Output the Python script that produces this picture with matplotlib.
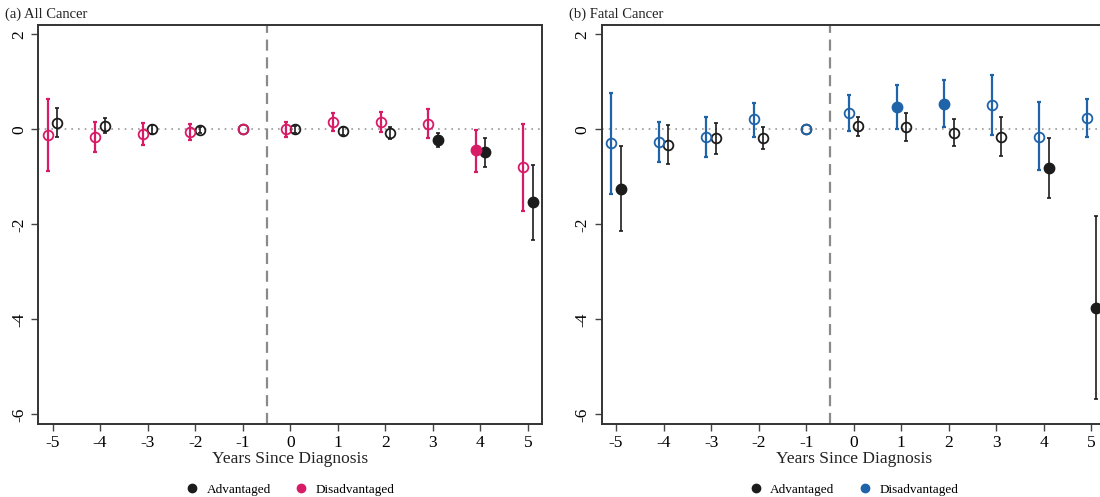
import numpy as np
import matplotlib
matplotlib.use('Agg')
from matplotlib import pyplot as plt
from matplotlib.lines import Line2D

plt.rcParams['font.family'] = ['Liberation Serif', 'DejaVu Serif']
plt.rcParams['axes.unicode_minus'] = False

nan = np.nan
years = [-5, -4, -3, -2, -1, 0, 1, 2, 3, 4, 5]
ref_year = -1

# (a) All Cancer
all_adv = [0.14, 0.08, 0.0, -0.01, 0.0, 0.0, -0.04, -0.08, -0.22, -0.48, -1.53]
all_adv_lo = [-0.16, -0.07, -0.10, -0.08, nan, -0.07, -0.12, -0.21, -0.38, -0.79, -2.33]
all_adv_hi = [0.44, 0.23, 0.09, 0.06, nan, 0.07, 0.06, 0.04, -0.07, -0.18, -0.74]
all_adv_sig = [0, 0, 0, 0, 0, 0, 0, 0, 1, 1, 1]
all_dis = [-0.12, -0.16, -0.10, -0.06, 0.0, 0.0, 0.15, 0.15, 0.12, -0.44, -0.79]
all_dis_lo = [-0.88, -0.48, -0.33, -0.22, nan, -0.15, -0.03, -0.06, -0.19, -0.89, -1.71]
all_dis_hi = [0.63, 0.15, 0.13, 0.11, nan, 0.15, 0.34, 0.36, 0.42, -0.01, 0.11]
all_dis_sig = [0, 0, 0, 0, 0, 0, 0, 0, 0, 1, 0]

# (b) Fatal Cancer
fat_adv = [-1.26, -0.32, -0.19, -0.18, 0.0, 0.08, 0.04, -0.07, -0.15, -0.81, -3.76]
fat_adv_lo = [-2.14, -0.73, -0.52, -0.42, nan, -0.13, -0.25, -0.36, -0.57, -1.44, -5.68]
fat_adv_hi = [-0.35, 0.09, 0.13, 0.05, nan, 0.27, 0.34, 0.22, 0.27, -0.19, -1.82]
fat_adv_sig = [1, 0, 0, 0, 0, 0, 0, 0, 0, 1, 1]
fat_dis = [-0.29, -0.27, -0.17, 0.21, 0.0, 0.34, 0.48, 0.53, 0.51, -0.15, 0.24]
fat_dis_lo = [-1.35, -0.69, -0.59, -0.15, nan, -0.04, 0.0, 0.04, -0.11, -0.86, -0.17]
fat_dis_hi = [0.76, 0.15, 0.25, 0.56, nan, 0.73, 0.94, 1.03, 1.14, 0.58, 0.64]
fat_dis_sig = [0, 0, 0, 0, 0, 0, 1, 1, 0, 0, 0]

BLACK = '#1c1c1c'
PINK = '#d81b66'
BLUE = '#1f63a8'


def series(ax, x, y, lo, hi, sig, color, lw):
    x = np.array(x, float)
    y = np.array(y, float)
    lo = np.array(lo, float)
    hi = np.array(hi, float)
    sig = np.array(sig, bool)
    ok = ~np.isnan(lo)
    ax.errorbar(x[ok], y[ok], yerr=[y[ok] - lo[ok], hi[ok] - y[ok]], fmt='none',
                ecolor=color, elinewidth=lw, capsize=1.5, capthick=lw, zorder=2)
    ax.plot(x[~sig], y[~sig], 'o', ms=7, mfc='none', mec=color, mew=1.3,
            linestyle='none', zorder=3)
    ax.plot(x[sig], y[sig], 'o', ms=7.5, mfc=color, mec=color,
            linestyle='none', zorder=3)


def panel(rect, title, adv, dis, dis_color):
    ax = fig.add_axes(rect)
    yr = np.array(years, float)
    off = np.where(yr == ref_year, 0, 0.1)
    ax.axhline(0, color='#999999', lw=1.2, linestyle=(0, (1, 3)), zorder=1)
    ax.axvline(-0.5, color='#8a8a8a', lw=1.6, linestyle=(0, (5, 3)), zorder=1)
    series(ax, yr + off, *adv, BLACK, 1.2)
    series(ax, yr - off, *dis, dis_color, 1.6)
    ax.set_xlim(-5.3, 5.3)
    ax.set_ylim(-6.2, 2.2)
    ax.set_xticks(years)
    ax.set_yticks([-6, -4, -2, 0, 2])
    ax.tick_params(length=5, width=1, color='#444444', labelsize=12.5, pad=3)
    for lab in ax.get_yticklabels():
        lab.set_rotation(90)
        lab.set_va('center')
    for s in ax.spines.values():
        s.set_linewidth(1.4)
        s.set_color('#333333')
    ax.set_xlabel('Years Since Diagnosis', fontsize=12.5, labelpad=0, color='#222222')
    pos = ax.get_position()
    fig.text(pos.x0 - 33 / 1100, 1 - 14 / 497, title, fontsize=10.5, va='center', color='#222222')
    handles = [Line2D([], [], marker='o', color=BLACK, linestyle='none', ms=6),
               Line2D([], [], marker='o', color=dis_color, linestyle='none', ms=6)]
    ax.legend(handles, ['Advantaged', 'Disadvantaged'], loc='center', ncol=2,
              bbox_to_anchor=(0.5, -0.165), frameon=False, fontsize=9.5,
              handletextpad=0.6, columnspacing=1.8, handlelength=1)
    return ax


fig = plt.figure(figsize=(11, 4.97), dpi=100)
panel([0.0348, 0.147, 0.4582, 0.803], '(a) All Cancer',
      (all_adv, all_adv_lo, all_adv_hi, all_adv_sig),
      (all_dis, all_dis_lo, all_dis_hi, all_dis_sig), PINK)
panel([0.547, 0.147, 0.4582, 0.803], '(b) Fatal Cancer',
      (fat_adv, fat_adv_lo, fat_adv_hi, fat_adv_sig),
      (fat_dis, fat_dis_lo, fat_dis_hi, fat_dis_sig), BLUE)
fig.savefig('out.png', dpi=100)
